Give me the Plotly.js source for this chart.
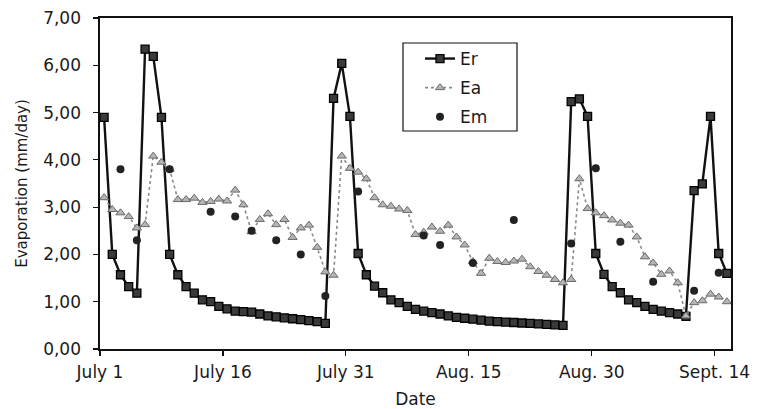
<!DOCTYPE html>
<html>
<head>
<meta charset="utf-8">
<script src="https://cdn.plot.ly/plotly-3.0.1.min.js"></script>
<style>html,body{margin:0;padding:0;background:#fff;}#chart{width:757px;height:409px;}</style>
</head>
<body>
<div id="chart"></div>
<script>
// Daily values, July 1 .. Sept 15 (77 days)
var startDate = '2005-07-01';
var Er = [4.90,2.00,1.57,1.32,1.18,6.34,6.19,4.90,2.00,1.57,1.32,1.18,1.04,1.00,0.90,0.85,0.80,0.79,0.78,0.74,
          0.70,0.68,0.66,0.64,0.62,0.60,0.58,0.54,5.30,6.04,4.92,2.02,1.57,1.33,1.19,1.04,0.98,0.90,0.84,0.80,
          0.77,0.74,0.70,0.67,0.65,0.63,0.61,0.59,0.58,0.57,0.56,0.55,0.54,0.53,0.52,0.51,0.50,5.23,5.29,4.92,
          2.02,1.58,1.32,1.19,1.04,0.98,0.90,0.84,0.80,0.77,0.74,0.69,3.35,3.49,4.92,2.02,1.60];
var Ea = [3.20,2.95,2.88,2.80,2.56,2.63,4.08,3.95,3.80,3.16,3.16,3.19,3.10,3.12,3.17,3.13,3.36,3.05,2.48,2.74,
          2.86,2.63,2.74,2.36,2.56,2.62,2.15,1.63,1.56,4.08,3.82,3.74,3.60,3.20,3.05,3.02,2.96,2.93,2.42,2.47,
          2.58,2.49,2.62,2.37,2.20,1.85,1.60,1.92,1.85,1.83,1.86,1.90,1.74,1.64,1.56,1.47,1.40,1.47,3.60,2.97,
          2.88,2.82,2.73,2.66,2.62,2.37,1.95,1.82,1.58,1.65,1.40,0.70,0.98,1.02,1.16,1.10,1.00];
var EmDay = [2,4,8,13,16,18,21,24,27,31,39,41,45,50,57,60,63,67,72,75];
var Em    = [3.80,2.30,3.80,2.90,2.80,2.50,2.30,2.00,1.12,3.33,2.40,2.20,1.82,2.73,2.23,3.82,2.27,1.42,1.23,1.61];
var tickDates = ['2005-07-01','2005-07-16','2005-07-31','2005-08-15','2005-08-30','2005-09-14'];
var tickLabels = ['July 1','July 16','July 31','Aug. 15','Aug. 30','Sept. 14'];
var rangeDates = ['2005-07-01','2005-09-16'];

function dayToDate(d){
  var t = new Date(startDate + 'T00:00:00Z').getTime() + (d + 0.5) * 86400000;
  return new Date(t).toISOString().slice(0,19).replace('T',' ');
}
var xAll = Er.map(function(v,i){return dayToDate(i);});
var xEm = EmDay.map(dayToDate);

var FONT = 'DejaVu Sans, Verdana, sans-serif';
var INK = '#1a1a1a';
var traces = [
  {x:xAll, y:Er, name:'Er', type:'scatter', mode:'lines+markers', legendgroup:'a',
   line:{color:'#111', width:2.4},
   marker:{symbol:'square', size:8, color:'#3a3a3a', line:{color:'#000', width:1.3}}},
  {x:xAll, y:Ea, name:'Ea', type:'scatter', mode:'lines+markers', legendgroup:'b',
   line:{color:'#8a8a8a', width:1.6, dash:'dot'},
   marker:{symbol:'triangle-up', size:8, color:'#b5b5b5', line:{color:'#6a6a6a', width:1}}},
  {x:xEm, y:Em, name:'Em', type:'scatter', mode:'markers', legendgroup:'c',
   marker:{symbol:'circle', size:8, color:'#222'}}
];

// plot area in pixels: left 100, right 731, top 18, bottom 349
var PL = 100, PR = 731, PT = 18, PB = 349;
function px2fx(p){return (p-PL)/(PR-PL);}
function py2fy(p){return (PB-p)/(PB-PT);}

var layout = {
  width:757, height:409,
  margin:{l:PL, r:757-PR, t:PT, b:409-PB},
  paper_bgcolor:'#fff', plot_bgcolor:'#fff',
  separators:', ',
  font:{family:FONT, color:INK, size:17},
  showlegend:true,
  legend:{x:px2fx(420), y:py2fy(41), xanchor:'left', yanchor:'top', bgcolor:'rgba(0,0,0,0)',
          borderwidth:0, font:{family:FONT, size:17, color:INK}, tracegroupgap:4},
  shapes:[{type:'rect', xref:'paper', yref:'paper', x0:px2fx(403), x1:px2fx(517), y0:py2fy(131), y1:py2fy(43),
           line:{color:'#111', width:1.2}, fillcolor:'#fff', layer:'above'}],
  xaxis:{type:'date', range:rangeDates, tickmode:'array', tickvals:tickDates, ticktext:tickLabels,
         showgrid:false, zeroline:false, showline:true, linecolor:'#111', linewidth:1.6, mirror:true,
         ticks:'outside', ticklen:5, tickcolor:'#111', tickwidth:1.2, ticklabelstandoff:2,
         tickfont:{family:FONT, size:17, color:INK},
         title:{text:'Date', font:{family:FONT, size:17, color:INK}, standoff:12}},
  yaxis:{range:[0,7], dtick:1, tick0:0, tickformat:'.2f', showgrid:false, zeroline:false,
         showline:true, linecolor:'#111', linewidth:1.6, mirror:true,
         ticks:'outside', ticklen:5, tickcolor:'#111', tickwidth:1.2, ticklabelstandoff:9,
         tickfont:{family:FONT, size:17, color:INK},
         title:{text:'Evaporation (mm/day)', font:{family:FONT, size:15, color:INK}, standoff:12}}
};
Plotly.newPlot('chart', traces, layout, {displayModeBar:false, staticPlot:true});
</script>
</body>
</html>
